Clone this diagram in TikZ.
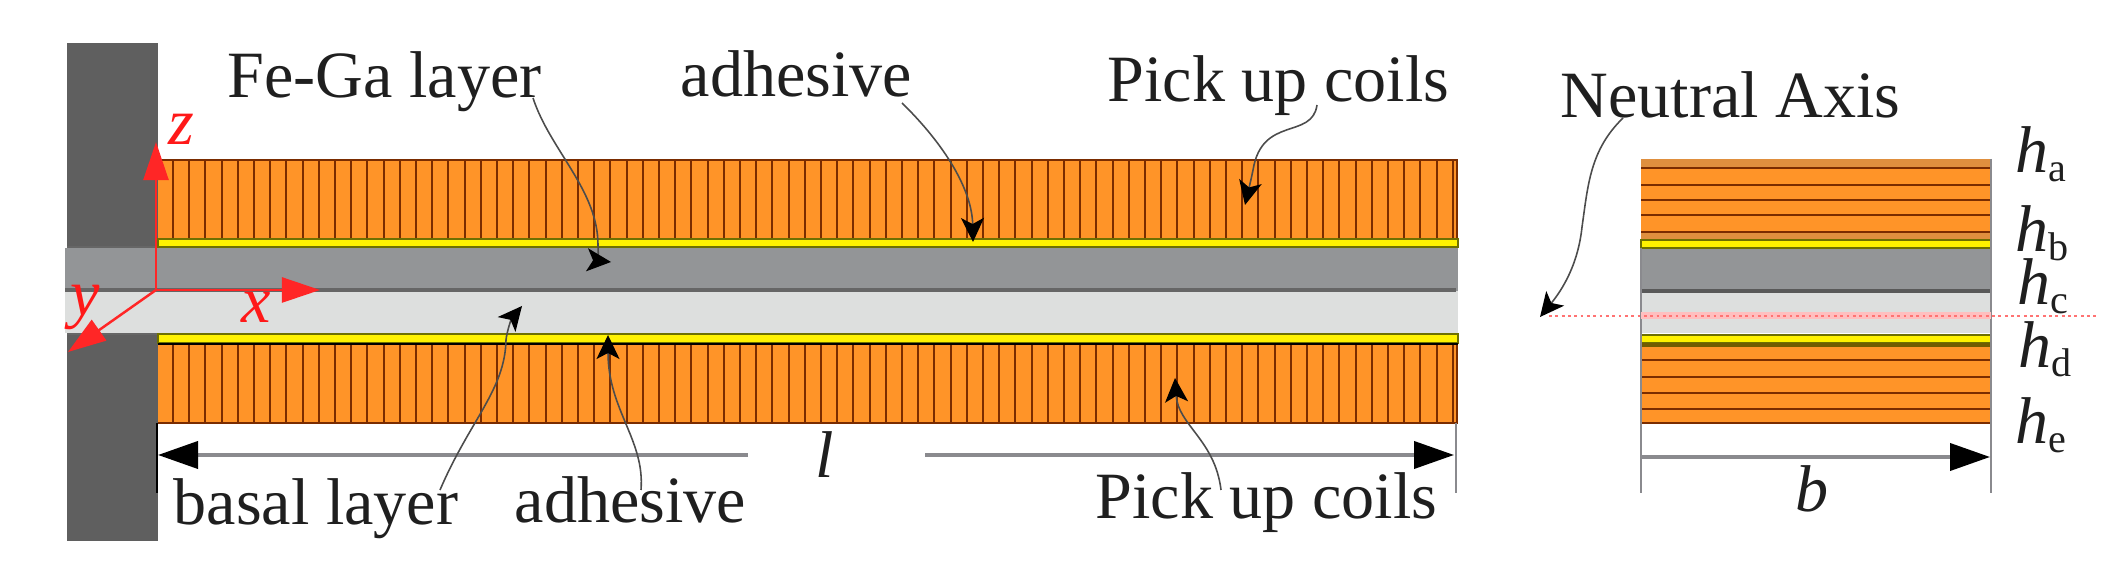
\documentclass[tikz,border=0pt]{standalone}
\usepackage{fontspec}
\setmainfont{Liberation Serif}
\usetikzlibrary{arrows.meta}
\definecolor{wallgray}{HTML}{5F5F5F}
\definecolor{fegagray}{HTML}{939597}
\definecolor{basalgray}{HTML}{DDDFDE}
\definecolor{coilfill}{HTML}{FF9428}
\definecolor{coilline}{HTML}{7A2C00}
\definecolor{glueedge}{HTML}{6E7000}
\definecolor{dimgray}{HTML}{8A8A8E}
\newcommand{\hsub}[1]{\textit{h}\raisebox{-0.13em}{\fontsize{11.4}{12}\selectfont #1}}
\tikzset{
    lbl/.style={font=\fontsize{18.8}{20}\selectfont, text=black!88, inner sep=0pt, anchor=base west},
    axislbl/.style={lbl, font=\fontsize{18.8}{20}\selectfont\itshape, text=red!90!white},
    axisline/.style={draw=red!85!white, line width=0.7pt, -{Triangle[length=0.38cm,width=0.25cm]}},
    dimline/.style={draw=dimgray, line width=1.1pt, -{Triangle[length=0.4cm,width=0.27cm,color=black]}},
    callout/.style={draw=black!70, line width=0.45pt, -{Stealth[length=0.24cm,width=0.23cm,inset=0.06cm,color=black]}},
    coilhatch/.style={draw=coilline, line width=0.6pt},
    glueband/.style={fill=yellow, draw=glueedge, line width=0.5pt}
}
\begin{document}
\begin{tikzpicture}[x=0.01cm,y=-0.01cm]
    \useasboundingbox (0,0) rectangle (2122,571);
    % clamp and the two middle layers
    \fill[wallgray] (67,43) rectangle (158,541);
    \fill[fegagray] (65,248) rectangle (1458,291);
    \fill[basalgray] (65,291) rectangle (1458,333);
    \draw[black!60, line width=1.1pt] (65,290) -- (1456,290);
    \draw[black!60, line width=0.8pt] (67,247) -- (158,247);
    \draw[black!60, line width=0.8pt] (67,334) -- (158,334);
    % coils along the beam
    \fill[coilfill] (158,160) rectangle (1458,240);
    \fill[coilfill] (158,344) rectangle (1458,423);
    \foreach \i in {0,...,79} {
        \draw[coilhatch] ({173+16.2*\i},160) -- ({173+16.2*\i},240);
        \draw[coilhatch] ({173+16.2*\i},344) -- ({173+16.2*\i},423);
    }
    \draw[coilhatch] (158,160) -- (1458,160);
    \draw[coilhatch] (158,423) -- (1458,423);
    \draw[coilhatch, line width=0.7pt] (1457,160) -- (1457,240);
    \draw[coilhatch, line width=0.7pt] (1457,344) -- (1457,423);
    \filldraw[glueband] (158,239) rectangle (1458,247);
    \filldraw[glueband] (158,334) rectangle (1458,343);
    \draw[black, line width=0.7pt] (158,344) -- (1458,344);
    % section on the right
    \fill[fegagray] (1641,248) rectangle (1991,291);
    \fill[basalgray] (1641,291) rectangle (1991,333);
    \draw[black!65, line width=1.1pt] (1641,291) -- (1991,291);
    \fill[coilfill] (1641,159) rectangle (1991,240);
    \fill[coilfill] (1641,345) rectangle (1991,423);
    \fill[coilfill!75!gray] (1641,159) rectangle (1991,168);
    \fill[coilfill!75!gray] (1641,232) rectangle (1991,240);
    \foreach \y in {168,185,200,215,232,240,360,377,393,409,423}
        \draw[coilhatch, line width=0.6pt] (1641,\y) -- (1991,\y);
    \filldraw[glueband] (1641,240) rectangle (1991,248);
    \filldraw[glueband] (1641,335) rectangle (1991,343);
    \fill[glueedge!70!coilline] (1641,343) rectangle (1991,347);
    \draw[dimgray, line width=0.7pt] (1641,248) -- (1641,493);
    \draw[dimgray, line width=0.7pt] (1991,159) -- (1991,493);
    % neutral axis
    \fill[red!25!white] (1641,312) rectangle (1991,319);
    \draw[red!55!white, line width=0.8pt, densely dotted] (1549,316) -- (2099,316);
    % axes
    \coordinate (origin) at (156,290);
    \coordinate (ztip) at (156,142);
    \coordinate (xtip) at (320,290);
    \coordinate (ytip) at (68,352);
    \draw[axisline] (origin) -- (ztip);
    \draw[axisline] (origin) -- (xtip);
    \draw[axisline] (origin) -- (ytip);
    \node[axislbl] (zlbl) at (168,145) {z};
    \node[axislbl] (xlbl) at (241,323) {x};
    \node[axislbl] (ylbl) at (70,316) {y};
    % dimensions
    \coordinate (lfoot) at (157,423);
    \coordinate (lend) at (157,493);
    \coordinate (rfoot) at (1456,423);
    \coordinate (rend) at (1456,493);
    \draw[black, line width=0.8pt] (lfoot) -- (lend);
    \draw[dimgray, line width=0.6pt] (rfoot) -- (rend);
    \node[lbl, font=\fontsize{18.8}{20}\selectfont\itshape] (llbl) at (815,478) {l};
    \coordinate (lstart) at (748,455);
    \coordinate (ltip) at (158,455);
    \coordinate (rstart) at (925,455);
    \coordinate (rtip) at (1454,455);
    \draw[dimline] (lstart) -- (ltip);
    \draw[dimline] (rstart) -- (rtip);
    \coordinate (bstart) at (1641,457);
    \coordinate (btip) at (1990,457);
    \draw[dimline] (bstart) -- (btip);
    \node[lbl, font=\fontsize{18.8}{20}\selectfont\itshape] (blbl) at (1795,512) {b};
    % labels
    \node[lbl] (fega) at (227,98) {Fe-Ga layer};
    \node[lbl] (glueup) at (680,97) {adhesive};
    \node[lbl] (coilup) at (1107,102) {Pick up coils};
    \node[lbl] (neutral) at (1560,118) {Neutral Axis};
    \node[lbl] (basal) at (173,525) {basal layer};
    \node[lbl] (gluedown) at (514,523) {adhesive};
    \node[lbl] (coildown) at (1095,519) {Pick up coils};
    \node[lbl] (ha) at (2015,173) {\hsub{a}};
    \node[lbl] (hb) at (2015,252) {\hsub{b}};
    \node[lbl] (hc) at (2017,305) {\hsub{c}};
    \node[lbl] (hd) at (2018,368) {\hsub{d}};
    \node[lbl] (he) at (2015,444) {\hsub{e}};
    % callouts
    \coordinate (fegatip) at (611,262);
    \coordinate (glueuptip) at (973,242);
    \coordinate (coiluptip) at (1245,205);
    \coordinate (neutraltip) at (1540,317);
    \coordinate (basaltip) at (522,306);
    \coordinate (gluedowntip) at (608,335);
    \coordinate (coildowntip) at (1175,378);
    \coordinate (fegafoot) at (533,98);
    \coordinate (glueupfoot) at (902,103);
    \coordinate (coilupfoot) at (1317,105);
    \coordinate (neutralfoot) at (1623,118);
    \coordinate (basalfoot) at (440,490);
    \coordinate (gluedownfoot) at (641,490);
    \coordinate (coildownfoot) at (1221,490);
    \draw[callout] (fegafoot) .. controls (550,150) and (598,190) .. (598,245) .. controls (598,255) and (600,261) .. (fegatip);
    \draw[callout] (glueupfoot) .. controls (945,145) and (972,190) .. (glueuptip);
    \draw[callout] (coilupfoot) .. controls (1312,140) and (1262,115) .. (1253,170) .. controls (1251,180) and (1248,192) .. (coiluptip);
    \draw[callout] (neutralfoot) .. controls (1590,150) and (1588,185) .. (1582,227) .. controls (1578,265) and (1562,290) .. (neutraltip);
    \draw[callout] (basalfoot) .. controls (470,420) and (505,390) .. (506,340) .. controls (507,330) and (512,318) .. (basaltip);
    \draw[callout] (gluedownfoot) .. controls (645,440) and (608,410) .. (gluedowntip);
    \draw[callout] (coildownfoot) .. controls (1215,440) and (1178,425) .. (coildowntip);
\end{tikzpicture}
\end{document}
